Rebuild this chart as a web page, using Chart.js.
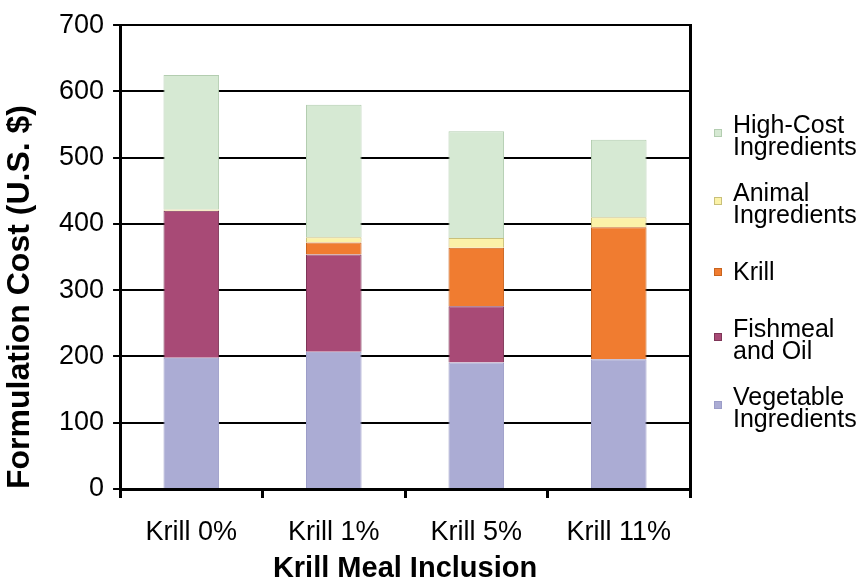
<!DOCTYPE html>
<html>
<head>
<meta charset="utf-8">
<script src="https://cdn.jsdelivr.net/npm/chart.js@4/dist/chart.umd.min.js"></script>
<style>
  html, body { margin: 0; padding: 0; background: #fff; }
  #wrap { width: 864px; height: 583px; }
</style>
</head>
<body>
<div id="wrap"><canvas id="myChart"></canvas></div>
<script>
var categories = ['Krill 0%', 'Krill 1%', 'Krill 5%', 'Krill 11%'];
var vegetable = [198, 207, 191, 196];
var fishmeal = [222, 147, 85, 0];
var krill = [0, 18, 88, 199];
var animal = [2, 8, 15, 15];
var highCost = [203, 200, 161, 117];
var yTicks = [0, 100, 200, 300, 400, 500, 600, 700];

var FONT = "'Liberation Sans', Arial, sans-serif";

// legend drawn on the right, top entry = top of stack
var sideLegend = {
    id: 'sideLegend',
    afterDraw: function (chart) {
        var c = chart.ctx;
        var ds = chart.data.datasets.slice().reverse();
        var x = chart.chartArea.right + 24;
        c.save();
        c.font = '25px ' + FONT;
        c.textBaseline = 'middle';
        ds.forEach(function (d, i) {
            var cy = 136 + i * 68;
            var lines = d.legendText;
            c.fillStyle = d.backgroundColor;
            c.strokeStyle = d.borderColor;
            c.lineWidth = 1;
            var sy = lines.length > 1 ? cy - 3 : cy;
            c.fillRect(x, sy - 4, 8, 8);
            c.strokeRect(x + 0.5, sy - 3.5, 7, 7);
            c.fillStyle = '#000';
            lines.forEach(function (t, j) {
                var ly = cy + 1 + (j - (lines.length - 1) / 2) * 22.5;
                c.fillText(t, x + 19, ly);
            });
        });
        c.restore();
    }
};

var ctx = document.getElementById('myChart').getContext('2d');
var myChart = new Chart(ctx, {
    type: 'bar',
    data: {
        labels: categories,
        datasets: [
            { label: 'Vegetable Ingredients', legendText: ['Vegetable', 'Ingredients'], data: vegetable,
              backgroundColor: '#abacd4', borderColor: '#9c9dc8' },
            { label: 'Fishmeal and Oil', legendText: ['Fishmeal', 'and Oil'], data: fishmeal,
              backgroundColor: '#a84a76', borderColor: '#7e3557' },
            { label: 'Krill', legendText: ['Krill'], data: krill,
              backgroundColor: '#f07c30', borderColor: '#c8641f' },
            { label: 'Animal Ingredients', legendText: ['Animal', 'Ingredients'], data: animal,
              backgroundColor: '#fbf2a8', borderColor: '#c9c07a' },
            { label: 'High-Cost Ingredients', legendText: ['High-Cost', 'Ingredients'], data: highCost,
              backgroundColor: '#d6e9d3', borderColor: '#b3cdb0' }
        ]
    },
    options: {
        responsive: true,
        maintainAspectRatio: false,
        devicePixelRatio: 1,
        animation: false,
        layout: { padding: { top: 8, right: 174, bottom: 0, left: 4 } },
        datasets: {
            bar: { barPercentage: 0.39, categoryPercentage: 1, borderWidth: 1 }
        },
        plugins: {
            legend: { display: false },
            tooltip: { enabled: false }
        },
        scales: {
            x: {
                stacked: true,
                grid: { display: true, drawOnChartArea: false, offset: true, color: '#000', lineWidth: 3, tickLength: 9 },
                border: { color: '#000', width: 3 },
                ticks: { color: '#000', font: { family: FONT, size: 27, lineHeight: 1 }, padding: 21 },
                title: { display: true, text: 'Krill Meal Inclusion', color: '#000',
                         font: { family: FONT, size: 29, weight: 'bold', lineHeight: 1 }, padding: { top: -13, bottom: 0 } }
            },
            y: {
                stacked: true,
                min: 0,
                max: 700,
                afterBuildTicks: function (axis) {
                    axis.ticks = yTicks.map(function (v) { return { value: v }; });
                },
                grid: { color: '#000', lineWidth: 2, tickLength: 7 },
                border: { color: '#000', width: 3 },
                ticks: { color: '#000', font: { family: FONT, size: 27 }, padding: 9 },
                title: { display: true, text: 'Formulation Cost (U.S. $)', color: '#000', align: 'start',
                         font: { family: FONT, size: 32, weight: 'bold', lineHeight: 1 }, padding: { top: 0, bottom: 14 } }
            },
            y2: {
                position: 'right',
                min: 0,
                max: 700,
                ticks: { display: false },
                grid: { drawOnChartArea: false, drawTicks: false },
                border: { color: '#000', width: 3 }
            }
        }
    },
    plugins: [sideLegend]
});
</script>
</body>
</html>
